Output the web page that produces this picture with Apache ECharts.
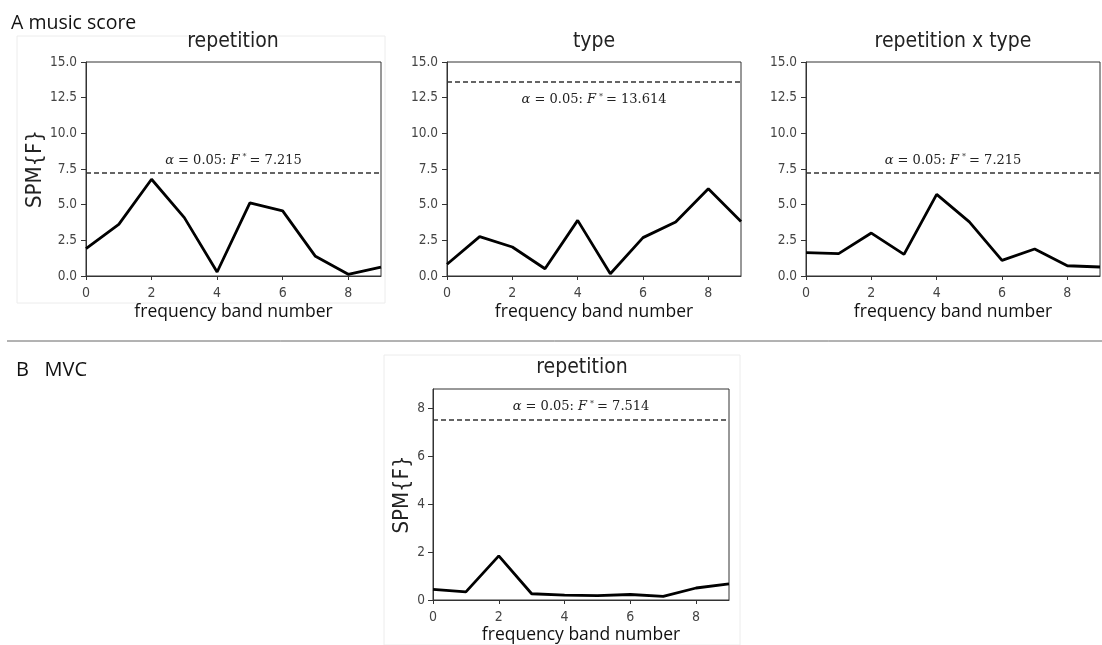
<!DOCTYPE html>
<html>
<head>
<meta charset="utf-8">
<script src="https://cdn.jsdelivr.net/npm/echarts@6/dist/echarts.min.js"></script>
<style>html,body{margin:0;padding:0;background:#fff}#c{width:1102px;height:645px}</style>
</head>
<body>
<div id="c"></div>
<script>
// ---- data ----
var bands = [0, 1, 2, 3, 4, 5, 6, 7, 8, 9];
var repA   = [1.92, 3.62, 6.78, 4.09, 0.28, 5.12, 4.56, 1.38, 0.12, 0.62];
var typeA  = [0.82, 2.76, 2.03, 0.51, 3.90, 0.16, 2.69, 3.79, 6.12, 3.82];
var rxtA   = [1.64, 1.57, 3.01, 1.52, 5.72, 3.79, 1.10, 1.89, 0.72, 0.63];
var repB   = [0.44, 0.34, 1.84, 0.26, 0.20, 0.18, 0.23, 0.15, 0.50, 0.67];
var thresholds = [7.215, 13.614, 7.215, 7.514];
var panelTitles = ['repetition', 'type', 'repetition x type', 'repetition'];
var xTitle = 'frequency band number';
var yTitle = 'SPM{F}';

function pairs(vals) { return bands.map(function (b, i) { return [b, vals[i]]; }); }

var COND = "'DejaVu Sans Condensed', 'Liberation Sans Narrow', 'DejaVu Sans'";
var chart = echarts.init(document.getElementById('c'), null, { renderer: 'canvas' });

var grids = [
  { left: 86,  top: 62,  width: 295, height: 214 },
  { left: 447, top: 62,  width: 294, height: 214 },
  { left: 806, top: 62,  width: 294, height: 214 },
  { left: 433, top: 389, width: 296, height: 213 }
];
grids.forEach(function (g) {
  g.show = true; g.borderColor = '#333'; g.borderWidth = 1; g.backgroundColor = 'transparent';
});

var xAxes = [0, 1, 2, 3].map(function (i) {
  return {
    type: 'value', gridIndex: i, min: 0, max: 9, interval: 2,
    splitLine: { show: false },
    axisLine: { show: true, onZero: false, lineStyle: { color: '#333', width: 1 } },
    axisTick: { show: true, length: 4, lineStyle: { color: '#333' } },
    axisLabel: { color: '#444', fontFamily: COND, fontSize: 14, margin: 10, showMaxLabel: false },
    name: xTitle, nameLocation: 'middle', nameGap: i === 3 ? 26 : 27,
    nameTextStyle: { color: '#111', fontFamily: 'Open Sans', fontSize: 17.5 }
  };
});

var yAxes = [0, 1, 2, 3].map(function (i) {
  var isB = i === 3;
  return {
    type: 'value', gridIndex: i, min: 0, max: isB ? 8.8 : 15, interval: isB ? 2 : 2.5,
    splitLine: { show: false },
    axisLine: { show: true, lineStyle: { color: '#333', width: 1 } },
    axisTick: { show: true, length: 5, lineStyle: { color: '#333' } },
    axisLabel: {
      color: '#444', fontFamily: COND, fontSize: 13.5, margin: isB ? 8 : 9,
      showMaxLabel: isB ? false : true,
      formatter: function (v) { return isB ? String(Math.round(v)) : v.toFixed(1); }
    },
    name: (i === 0 || i === 3) ? yTitle : '',
    nameLocation: 'middle', nameRotate: 90, nameGap: isB ? 19 : 39,
    nameTextStyle: { color: '#222', fontFamily: COND, fontSize: 22 }
  };
});

var rich = {
  n: { fontFamily: 'DejaVu Serif', fontSize: 13, color: '#222' },
  i: { fontFamily: 'DejaVu Serif', fontStyle: 'italic', fontSize: 13, color: '#222' },
  s: { fontFamily: 'DejaVu Serif', fontSize: 8, color: '#222', verticalAlign: 'top', padding: [0, 3, 6, 3] }
};

var seriesVals = [repA, typeA, rxtA, repB];
var series = seriesVals.map(function (vals, i) {
  return {
    type: 'line', xAxisIndex: i, yAxisIndex: i, data: pairs(vals),
    showSymbol: false, symbol: 'none', silent: true, animation: false,
    lineStyle: { color: '#000', width: 2.8 },
    markLine: {
      symbol: ['none', 'none'], silent: true, animation: false,
      lineStyle: { type: [5, 3], color: '#333', width: 1.5 },
      label: {
        show: true,
        position: i === 1 ? 'insideMiddleBottom' : 'insideMiddleTop',
        distance: i === 1 ? 11 : 6,
        formatter: function () {
          return '{i|\u03b1}{n| = 0.05: }{i|F}{s|*}{n|= ' + thresholds[i].toFixed(3) + '}';
        },
        rich: rich
      },
      data: [{ yAxis: thresholds[i] }]
    }
  };
});

var titleCenters = [
  { left: 233, top: 31 }, { left: 594, top: 31 }, { left: 953, top: 31 }, { left: 582, top: 357 }
];
var titles = panelTitles.map(function (t, i) {
  return {
    text: t, left: titleCenters[i].left, top: titleCenters[i].top, textAlign: 'center', padding: 0,
    textStyle: { fontFamily: COND, fontSize: 21, fontWeight: 'normal', color: '#222' }
  };
});

chart.setOption({
  animation: false,
  backgroundColor: '#fff',
  title: titles,
  grid: grids,
  xAxis: xAxes,
  yAxis: yAxes,
  series: series,
  graphic: [
    { type: 'text', left: 11, top: 13, style: { text: 'A music score', font: '19.5px "Open Sans"', fill: '#111' } },
    { type: 'text', left: 16, top: 360, style: { text: 'B   MVC', font: '20px "Open Sans"', fill: '#111' } },
    { type: 'line', shape: { x1: 7, y1: 341, x2: 1102, y2: 341 }, style: { stroke: '#666', lineWidth: 1 } },
    { type: 'rect', shape: { x: 17, y: 36, width: 368, height: 267 }, style: { fill: 'none', stroke: '#ececec', lineWidth: 1 } },
    { type: 'rect', shape: { x: 384, y: 355, width: 356, height: 290 }, style: { fill: 'none', stroke: '#ececec', lineWidth: 1 } }
  ]
});
</script>
</body>
</html>
